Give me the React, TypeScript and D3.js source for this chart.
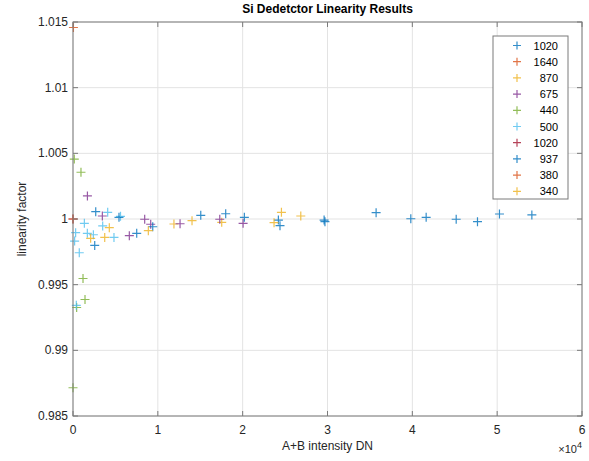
import React from 'react';
import { scaleLinear } from 'd3';

const W = 589;
const H = 461;
const margin = { left: 73, right: 7, top: 22, bottom: 45 };

const seriesNames = ['1020', '1640', '870', '675', '440', '500', '1020', '937', '380', '340'];
const seriesColors = ['#0072BD', '#D95319', '#EDB120', '#7E2F8E', '#77AC30', '#4DBEEE', '#A2142F', '#0072BD', '#D95319', '#EDB120'];

// intensity (DN), linearity factor
const s1020a = [[24210, 0.99992], [29600, 0.99992], [35730, 1.00048], [39820, 1.00002], [41630, 1.00013], [45170, 0.99998], [47680, 0.9998], [50270, 1.00038], [54090, 1.00031]];
const s1640 = [[50, 1.01458]];
const s870 = [[11900, 0.99962], [14030, 0.99987], [17530, 0.99975], [23700, 0.99972], [24570, 1.00051], [26850, 1.00023]];
const s675 = [[1700, 1.00176], [3460, 1.00023], [6640, 0.99873], [8450, 0.99998], [9160, 0.9996], [12620, 0.99964], [17300, 0.99998], [20050, 0.99967]];
const s440 = [[150, 1.00456], [940, 1.00356], [1180, 0.99547], [1415, 0.99387], [430, 0.99326], [0, 0.98715]];
const s500 = [[390, 0.99343], [310, 0.99896], [190, 0.99832], [740, 0.99743], [1340, 0.99967], [1690, 0.99891], [3500, 0.99947], [4090, 1.00051], [4830, 0.9986], [5600, 1.0002], [2400, 0.9988]];
const s1020b = [[0, 1.0]];
const s937 = [[2560, 0.99799], [2680, 1.00056], [5420, 1.00013], [7510, 0.99891], [9400, 0.99941], [15060, 1.00028], [18000, 1.0004], [20200, 1.00013], [24400, 0.99949], [29700, 0.9998]];
const s380 = [[0, 1.0]];
const s340 = [[2080, 0.99853], [3740, 0.9986], [4280, 0.99934], [8880, 0.99911]];

const seriesData = [s1020a, s1640, s870, s675, s440, s500, s1020b, s937, s380, s340];

const xTicks = [0, 10000, 20000, 30000, 40000, 50000, 60000];
const xTickLabels = ['0', '1', '2', '3', '4', '5', '6'];
const yTicks = [0.985, 0.99, 0.995, 1, 1.005, 1.01, 1.015];
const yTickLabels = ['0.985', '0.99', '0.995', '1', '1.005', '1.01', '1.015'];

const font = 'Liberation Sans, Arial, Helvetica, sans-serif';

function Plus({ x, y, color, r = 4.5 }: { x: number; y: number; color: string; r?: number }) {
  return (
    <path d={`M${x - r},${y}H${x + r}M${x},${y - r}V${y + r}`} stroke={color} strokeWidth={1.2} strokeOpacity={0.8} fill="none" />
  );
}

export default function App() {
  const x = scaleLinear().domain([0, 60000]).range([margin.left, W - margin.right]);
  const y = scaleLinear().domain([0.985, 1.015]).range([H - margin.bottom, margin.top]);
  const [x0, x1] = x.range();
  const [y0, y1] = y.range();
  const tl = 5;

  const legX = 493;
  const legY = 36;
  const legW = 75;
  const rowH = 16.2;

  return (
    <svg width={W} height={H} style={{ position: 'absolute', left: 0, top: 0, background: '#fff' }} fontFamily={font}>
      <rect width={W} height={H} fill="#fff" />
      {/* grid */}
      {xTicks.map(t => (
        <line key={'gx' + t} x1={x(t)} x2={x(t)} y1={y0} y2={y1} stroke="#e3e3e3" />
      ))}
      {yTicks.map(t => (
        <line key={'gy' + t} x1={x0} x2={x1} y1={y(t)} y2={y(t)} stroke="#e3e3e3" />
      ))}

      {/* data */}
      {seriesData.map((pts, i) =>
        pts.map((p, j) => <Plus key={i + '-' + j} x={x(p[0])} y={y(p[1])} color={seriesColors[i]} />)
      )}

      {/* box + ticks */}
      <rect x={x0} y={y1} width={x1 - x0} height={y0 - y1} fill="none" stroke="#7a7a7a" />
      {xTicks.map(t => (
        <g key={'tx' + t}>
          <line x1={x(t)} x2={x(t)} y1={y0} y2={y0 - tl} stroke="#7a7a7a" />
          <line x1={x(t)} x2={x(t)} y1={y1} y2={y1 + tl} stroke="#7a7a7a" />
        </g>
      ))}
      {yTicks.map(t => (
        <g key={'ty' + t}>
          <line x1={x0} x2={x0 + tl} y1={y(t)} y2={y(t)} stroke="#7a7a7a" />
          <line x1={x1} x2={x1 - tl} y1={y(t)} y2={y(t)} stroke="#7a7a7a" />
        </g>
      ))}

      {/* tick labels */}
      {xTicks.map((t, i) => (
        <text key={'lx' + t} x={x(t)} y={y0 + 18} textAnchor="middle" fontSize={12} fill="#262626">{xTickLabels[i]}</text>
      ))}
      {yTicks.map((t, i) => (
        <text key={'ly' + t} x={x0 - 5} y={y(t) + 4} textAnchor="end" fontSize={12} fill="#262626">{yTickLabels[i]}</text>
      ))}

      {/* x10^4 */}
      <text x={x1} y={H - 8} textAnchor="end" fontSize={11} fill="#262626">
        ×10<tspan dy={-5} fontSize={9}>4</tspan>
      </text>

      {/* labels */}
      <text x={(x0 + x1) / 2} y={13} textAnchor="middle" fontSize={12} fontWeight="bold" fill="#000">Si Dedetctor Linearity Results</text>
      <text x={(x0 + x1) / 2} y={H - 11} textAnchor="middle" fontSize={12} fill="#262626">A+B intensity DN</text>
      <text transform={`translate(26,${(y0 + y1) / 2}) rotate(-90)`} textAnchor="middle" fontSize={12} fill="#262626">linearity factor</text>

      {/* legend */}
      <rect x={legX} y={legY} width={legW} height={rowH * seriesNames.length + 1} fill="#fff" stroke="#7a7a7a" />
      {seriesNames.map((name, i) => {
        const cy = legY + 9.5 + i * rowH;
        return (
          <g key={'leg' + i}>
            <Plus x={legX + 24} y={cy} color={seriesColors[i]} r={4} />
            <text x={legX + 65} y={cy + 4} textAnchor="end" fontSize={11} fill="#000">{name}</text>
          </g>
        );
      })}
    </svg>
  );
}
